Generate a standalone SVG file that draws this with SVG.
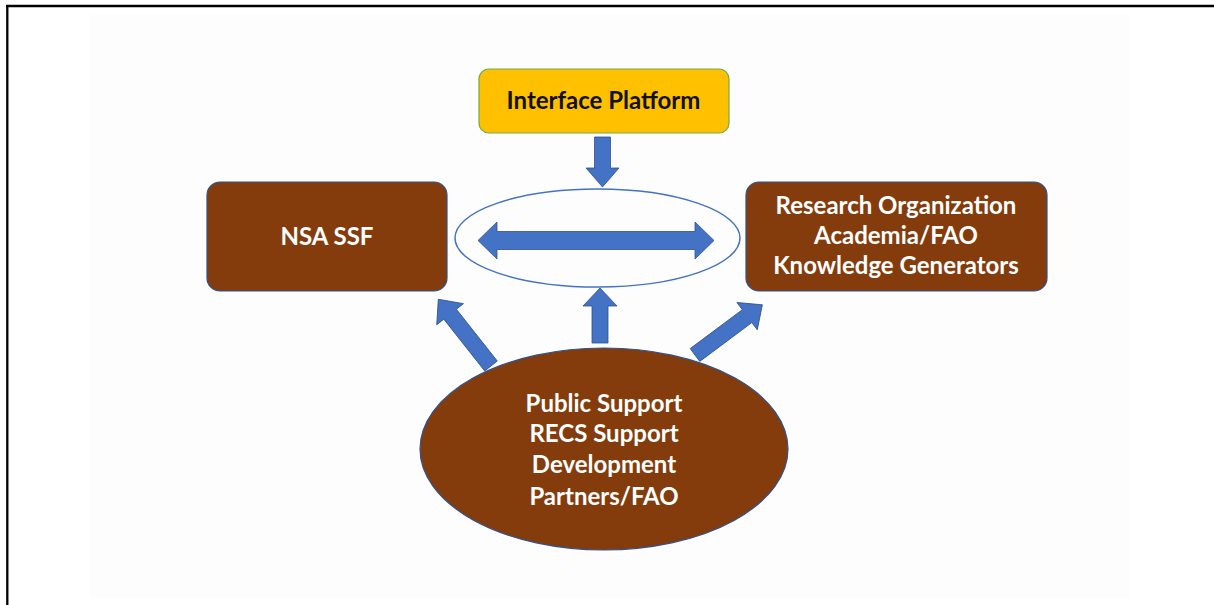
<svg xmlns="http://www.w3.org/2000/svg" width="1214" height="605" viewBox="0 0 1214 605">
  <style>
    .lbl { font-family: Lato, "Open Sans", "Liberation Sans", sans-serif; font-weight: bold; font-size: 24px; text-anchor: middle; }
    .light { fill: #ffffff; }
    .dark { fill: #111111; }
    .brown { fill: #843C0C; stroke: #2F528F; stroke-width: 1.2; }
    .arrow { fill: #4472C4; stroke: #2F528F; stroke-width: 0.8; stroke-linejoin: miter; }
  </style>

  <!-- page and frame -->
  <rect x="0" y="0" width="1214" height="605" fill="#ffffff"/>
  <rect x="90" y="15" width="1040" height="583" fill="#fdfdfd"/>
  <line x1="6" y1="6" x2="1214" y2="6" stroke="#000000" stroke-width="2.5"/>
  <line x1="7.3" y1="5" x2="7.3" y2="605" stroke="#000000" stroke-width="2.3"/>

  <!-- connectors -->
  <g id="connectors">
    <polygon id="arrow-platform-down" class="arrow" points="594.5,137 610.5,137 610.5,168 619,168 602.5,187 586,168 594.5,168"/>
    <polygon id="arrow-exchange" class="arrow" points="478,240.5 497,222 497,231.5 695,231.5 695,222 714,240.5 695,259 695,249.5 497,249.5 497,259"/>
    <polygon id="arrow-support-up" class="arrow" points="592,343 592,306 583,306 600,288 617,306 608,306 608,343"/>
    <polygon id="arrow-support-left" class="arrow" points="0,-8 66,-8 66,-17 85,0 66,17 66,8 0,8" transform="translate(491,366) rotate(-128.3)"/>
    <polygon id="arrow-support-right" class="arrow" points="0,-8 65,-8 65,-17 84,0 65,17 65,8 0,8" transform="translate(695,355) rotate(-36.7)"/>
  </g>

  <!-- exchange ring -->
  <g id="exchange-ring">
    <ellipse cx="597.5" cy="238" rx="142.5" ry="49" fill="none" stroke="#4472C4" stroke-width="1.5"/>
  </g>

  <g id="interface-platform">
    <rect x="479" y="69" width="250" height="64" rx="10" ry="10" fill="#FFC000" stroke="#70AD47" stroke-width="1.2"/>
    <text class="lbl dark" x="603.5" y="109">Interface Platform</text>
  </g>

  <g id="nsa-ssf">
    <rect class="brown" x="207" y="182" width="240" height="109" rx="13" ry="13"/>
    <text class="lbl light" x="327" y="245">NSA SSF</text>
  </g>

  <g id="research-organization">
    <rect class="brown" x="746" y="182" width="301" height="109" rx="13" ry="13"/>
    <text class="lbl light" x="896" y="214">Research Organization</text>
    <text class="lbl light" x="896" y="244">Academia/FAO</text>
    <text class="lbl light" x="896" y="274">Knowledge Generators</text>
  </g>

  <g id="public-support">
    <ellipse class="brown" cx="604" cy="449" rx="184" ry="101"/>
    <text class="lbl light" x="604" y="412">Public Support</text>
    <text class="lbl light" x="604" y="442">RECS Support</text>
    <text class="lbl light" x="604" y="473">Development</text>
    <text class="lbl light" x="604" y="505">Partners/FAO</text>
  </g>
</svg>
